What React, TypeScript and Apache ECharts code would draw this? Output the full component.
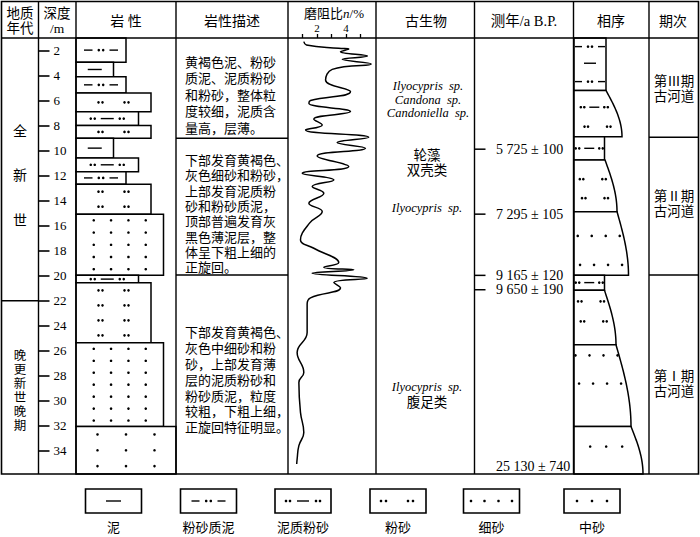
import React, { useEffect, useRef } from "react";
import * as echarts from "echarts";

const SERIF = "'Liberation Serif', 'Noto Sans CJK SC', serif";

// depth axis (m)
const depthMin = 1;
const depthMax = 35.9;
const depthTicks = [2, 4, 6, 8, 10, 12, 14, 16, 18, 20, 22, 24, 26, 28, 30, 32, 34];

// lithology beds: [top, bottom, grain class (1 泥 2 粉砂质泥 3 泥质粉砂 4 粉砂 5 细砂 6 中砂), symbol rows]
const lithologyBeds = [
  [1.0, 2.94, 2, 1],
  [2.94, 4.1, 1, 1],
  [4.1, 5.4, 2, 1],
  [5.4, 6.9, 4, 1],
  [6.9, 8.0, 3, 1],
  [8.0, 9.03, 4, 1],
  [9.03, 10.6, 1, 1],
  [10.6, 11.7, 3, 1],
  [11.7, 12.7, 2, 1],
  [12.7, 15.1, 4, 2],
  [15.1, 20.0, 5, 5],
  [20.0, 20.6, 3, 1],
  [20.6, 25.4, 4, 4],
  [25.4, 32.1, 5, 7],
  [32.1, 35.9, 6, 3],
];

// resistivity curve
const resDepth = [1.29, 1.56, 1.83, 1.88, 2.1, 2.44, 2.71, 3.08, 3.51, 4.36, 5.29, 6.01, 6.23, 6.89, 7.5, 7.96, 8.36, 8.95, 9.37, 9.83, 10.44, 11.29, 11.83, 12.36, 12.89, 13.43, 14.23, 14.89, 15.8, 17.16, 17.83, 18.97, 19.35, 19.56, 19.83, 20.23, 20.57, 21.0, 21.8, 22.3, 24.57, 26.17, 27.77, 28.57, 30.97, 32.57, 33.63, 34.7, 35.1];
const resValue = [1.09, 1.27, 3.5, 4.19, 3.62, 5.48, 3.74, 5.74, 3.05, 2.59, 4.31, 1.55, 1.44, 4.31, 1.78, 2.36, 1.21, 5.57, 3.39, 5.34, 2.01, 4.19, 0.98, 3.16, 1.67, 2.47, 1.44, 2.36, 1.5, 0.86, 1.78, 3.5, 2.47, 4.54, 1.67, 5.46, 3.16, 3.62, 1.55, 1.32, 1.32, 0.63, 1.09, 0.75, 0.86, 1.09, 0.75, 0.63, 0.6];
const resTicks = [1, 2, 3, 4, 5];
const resLabels = [2, 4];

// dating
const dateDepth = [9.9, 15.1, 20.0, 21.15, 35.3];
const dateLabel = ["5 725 ± 100", "7 295 ± 105", "9 165 ± 120", "9 650 ± 190", "25 130 ± 740"];
const dateHasTick = [1, 1, 1, 1, 0];

// facies sequence beds: [top, bottom, width at top, width at bottom]
const faciesBeds = [
  [1.0, 5.2, 32, 32],
  [5.2, 8.9, 32, 48],
  [8.9, 10.76, 30.5, 30.5],
  [10.76, 14.9, 31, 43],
  [14.9, 20.0, 43, 54.5],
  [20.0, 21.2, 30.5, 30.5],
  [21.2, 25.56, 30.5, 42],
  [25.56, 32.1, 42, 57],
  [32.1, 35.9, 57, 69],
];
// facies symbols: [depth, grain class]
const faciesMarks = [
  [1.69, 2], [3.02, 1], [4.49, 2],
  [6.54, 3], [8.09, 4],
  [9.83, 3],
  [12.3, 4], [13.82, 4],
  [16.84, 5], [19.16, 5],
  [20.58, 3],
  [22.08, 4], [23.68, 4],
  [26.4, 5], [28.66, 5],
  [33.7, 6],
];

const legendNames = ["泥", "粉砂质泥", "泥质粉砂", "粉砂", "细砂", "中砂"];

const SYMBOLS: any = {
  lith: {
    1: { dashes: [[-7, 7]], dots: [] },
    2: { dashes: [[-17, -8.5], [8.5, 17]], dots: [-2.2, 2.2] },
    3: { dashes: [[-6.5, 6.5]], dots: [-16.5, -12.5, 12.5, 16.5] },
    4: { dashes: [], dots: [-15, -11, 11, 15] },
    5: { dashes: [], dots: [-26, -8.7, 8.7, 26] },
    6: { dashes: [], dots: [-28.5, 0, 28.5] },
  },
  facies: {
    1: { dashes: [[-6, 6]], dots: [] },
    2: { dashes: [[-15, -8], [8, 15]], dots: [-2, 2] },
    3: { dashes: [[-5, 5]], dots: [-13.5, -10, 10, 13.5] },
    4: { dashes: [], dots: [-13, -9.5, 9.5, 13] },
    5: { dashes: [], dots: [-21, -7, 7, 21] },
    6: { dashes: [], dots: [-16, 0, 16] },
  },
  legend: {
    1: { dashes: [[-7.5, 7.5]], dots: [] },
    2: { dashes: [[-17, -9], [9, 17]], dots: [-2.3, 2.3] },
    3: { dashes: [[-6, 6]], dots: [-17, -13, 13, 17] },
    4: { dashes: [], dots: [-17, -12, 10, 15] },
    5: { dashes: [], dots: [-20.5, -7, 7, 20.5] },
    6: { dashes: [], dots: [-15, 0, 15] },
  },
};

function symbolEls(cx: number, cy: number, cls: number, ctx: string) {
  const s = SYMBOLS[ctx][cls];
  const els: any[] = [];
  s.dashes.forEach((d: number[]) =>
    els.push({ type: "line", shape: { x1: cx + d[0], y1: cy, x2: cx + d[1], y2: cy }, style: { stroke: "#000", lineWidth: 1.4 } })
  );
  s.dots.forEach((d: number) =>
    els.push({ type: "circle", shape: { cx: cx + d, cy, r: 1.3 }, style: { fill: "#000" } })
  );
  return els;
}

function faciesWidth(b: number[], depth: number) {
  const t = Math.max(0, Math.min(1, (depth - b[0]) / (b[1] - b[0])));
  return b[2] + (b[3] - b[2]) * Math.sin((t * Math.PI) / 2);
}

// column borders (px)
const TOP = 38;
const BOTTOM = 474;
const cols = [1.5, 38.5, 76, 176, 288, 376, 474.5, 573.5, 649, 698.5];

export default function App() {
  const ref = useRef<HTMLDivElement>(null);
  useEffect(() => {
    if (!ref.current) return;
    const chart = echarts.init(ref.current, null, { renderer: "svg" });
    const H = BOTTOM - TOP;
    const yBase = (i: number, extra: any = {}) => ({
      type: "value",
      gridIndex: i,
      min: depthMin,
      max: depthMax,
      inverse: true,
      axisLine: { show: false },
      axisTick: { show: false },
      axisLabel: { show: false },
      splitLine: { show: false },
      ...extra,
    });
    const xBase = (i: number, min: number, max: number, extra: any = {}) => ({
      type: "value",
      gridIndex: i,
      min,
      max,
      axisLine: { show: false },
      axisTick: { show: false },
      axisLabel: { show: false },
      splitLine: { show: false },
      ...extra,
    });
    const grid = (left: number, width: number) => ({ left, width, top: TOP, height: H, outerBoundsMode: "none" });

    const graphics: any[] = [];
    const txt = (x: number, y: number, text: string, extra: any = {}) =>
      graphics.push({
        type: "text",
        x,
        y,
        z: 10,
        style: { text, fontFamily: SERIF, fontSize: 13, fill: "#000", align: "center", verticalAlign: "middle", ...extra },
      });
    const ln = (x1: number, y1: number, x2: number, y2: number, w = 1.4) =>
      graphics.push({ type: "line", z: 5, shape: { x1, y1, x2, y2 }, style: { stroke: "#000", lineWidth: w } });

    // table frame
    graphics.push({ type: "rect", z: 5, shape: { x: 1.5, y: 1.5, width: 697, height: BOTTOM - 1.5 }, style: { fill: "none", stroke: "#000", lineWidth: 1.6 } });
    ln(1.5, TOP, 698.5, TOP);
    cols.slice(1, -1).forEach((x) => ln(x, 1.5, x, BOTTOM));
    ln(1.5, 300.7, 38.5, 300.7);
    ln(176, 138.3, 288, 138.3);
    ln(176, 275, 288, 275);
    ln(649, 137.3, 698.5, 137.3);
    ln(649, 275, 698.5, 275);

    // headers
    txt(20, 13, "地质", { fontSize: 13.5 });
    txt(20, 28, "年代", { fontSize: 13.5 });
    txt(57, 13, "深度", { fontSize: 13.5 });
    txt(57, 28, "/m", { fontSize: 13.5 });
    txt(126, 21, "岩 性", { fontSize: 14 });
    txt(232, 21, "岩性描述", { fontSize: 14 });
    graphics.push({
      type: "text",
      x: 334,
      y: 13,
      z: 10,
      style: {
        text: "{a|磨阻比}{b|n}{a|/%}",
        align: "center",
        verticalAlign: "middle",
        rich: {
          a: { fontFamily: SERIF, fontSize: 13, fill: "#000" },
          b: { fontFamily: SERIF, fontSize: 13, fontStyle: "italic", fill: "#000" },
        },
      },
    });
    txt(426, 21, "古生物", { fontSize: 14 });
    txt(524, 21, "测年/a B.P.", { fontSize: 14.5 });
    txt(611, 21, "相序", { fontSize: 14 });
    txt(673, 21, "期次", { fontSize: 14 });

    // geological age
    txt(20, 131, "全", { fontSize: 14 });
    txt(20, 175, "新", { fontSize: 14 });
    txt(20, 220, "世", { fontSize: 14 });
    ["晚", "更", "新", "世", "晚", "期"].forEach((c, i) => txt(20, 356 + i * 14, c, { fontSize: 12.5 }));

    // lithology descriptions
    const desc = (x: number, y: number, lines: string[], lh: number) =>
      graphics.push({
        type: "text",
        x,
        y,
        z: 10,
        style: { text: lines.join("\n"), fontFamily: SERIF, fontSize: 13, lineHeight: lh, fill: "#000", align: "left", verticalAlign: "top" },
      });
    desc(185, 54, ["黄褐色泥、粉砂", "质泥、泥质粉砂", "和粉砂，整体粒", "度较细，泥质含", "量高，层薄。"], 16.5);
    desc(185, 153, ["下部发育黄褐色、", "灰色细砂和粉砂，", "上部发育泥质粉", "砂和粉砂质泥，", "顶部普遍发育灰", "黑色薄泥层，整", "体呈下粗上细的", "正旋回。"], 15.3);
    desc(185, 325, ["下部发育黄褐色、", "灰色中细砂和粉", "砂，上部发育薄", "层的泥质粉砂和", "粉砂质泥，粒度", "较粗，下粗上细，", "正旋回特征明显。"], 15.8);

    // fossils (three stacked names as one block)
    graphics.push({
      type: "text",
      x: 428,
      y: 99.5,
      z: 10,
      style: {
        text: "Ilyocypris  sp.\nCandona  sp.\nCandoniella  sp.",
        fontFamily: SERIF,
        fontSize: 12.5,
        fontStyle: "italic",
        lineHeight: 13.7,
        fill: "#000",
        align: "center",
        verticalAlign: "middle",
      },
    });
    const ital = { fontStyle: "italic", fontSize: 12.5 };
    txt(427, 155, "轮藻", { fontSize: 13.5 });
    txt(427, 170, "双壳类", { fontSize: 13.5 });
    txt(427, 208, "Ilyocypris  sp.", ital);
    txt(427, 387, "Ilyocypris  sp.", ital);
    txt(427, 402, "腹足类", { fontSize: 13.5 });

    // periods
    txt(674, 81, "第Ⅲ期", { fontSize: 13.5 });
    txt(674, 96, "古河道", { fontSize: 13.5 });
    txt(674, 196, "第Ⅱ期", { fontSize: 13.5 });
    txt(674, 211, "古河道", { fontSize: 13.5 });
    txt(674, 376, "第Ⅰ期", { fontSize: 13.5 });
    txt(674, 391, "古河道", { fontSize: 13.5 });

    // legend
    const legendCx = [113.5, 208.5, 303, 398, 491.5, 592];
    legendNames.forEach((name, i) => {
      const cx = legendCx[i];
      graphics.push({ type: "rect", z: 5, shape: { x: cx - 28, y: 489, width: 56, height: 24 }, style: { fill: "#fff", stroke: "#000", lineWidth: 1.6 } });
      symbolEls(cx, 501, i + 1, "legend").forEach((e) => graphics.push({ ...e, z: 6 }));
      txt(cx, 527, name, { fontSize: 13 });
    });

    const option: any = {
      animation: false,
      backgroundColor: "#fff",
      grid: [grid(38.5, 37.5), grid(76, 100), grid(288, 88), grid(474.5, 99), grid(574, 75)],
      yAxis: [
        yBase(0, {
          axisTick: { show: true, inside: true, length: 11, customValues: depthTicks, lineStyle: { color: "#000", width: 1.6 } },
          axisLabel: { show: true, inside: true, margin: 15, customValues: depthTicks, fontFamily: SERIF, fontSize: 13, color: "#000" },
        }),
        yBase(1),
        yBase(2),
        yBase(3),
        yBase(4),
      ],
      xAxis: [
        xBase(0, 0, 1),
        xBase(1, -2, 6),
        xBase(2, 0, 88 / 14.5, {
          position: "top",
          axisTick: { show: true, length: 4, customValues: resTicks, lineStyle: { color: "#000", width: 1.3 } },
          axisLabel: { show: true, margin: 5, customValues: resLabels, fontFamily: SERIF, fontSize: 11, color: "#000" },
        }),
        xBase(3, 0, 99),
        xBase(4, 0, 75),
      ],
      graphic: graphics,
      series: [
        {
          type: "custom",
          xAxisIndex: 1,
          yAxisIndex: 1,
          data: lithologyBeds,
          renderItem: (params: any, api: any) => {
            const top = api.value(0), bottom = api.value(1), cls = api.value(2), rows = api.value(3);
            const p0 = api.coord([-2, top]);
            const p1 = api.coord([cls, bottom]);
            const children: any[] = [
              { type: "rect", shape: { x: p0[0], y: p0[1], width: p1[0] - p0[0], height: p1[1] - p0[1] }, style: { fill: "#fff", stroke: "#000", lineWidth: 1.5 } },
            ];
            const cx = (p0[0] + p1[0]) / 2;
            for (let i = 0; i < rows; i++) {
              const cy = p0[1] + ((i + 0.5) * (p1[1] - p0[1])) / rows;
              children.push(...symbolEls(cx, cy, cls, "lith"));
            }
            return { type: "group", children };
          },
        },
        {
          type: "line",
          xAxisIndex: 2,
          yAxisIndex: 2,
          data: resDepth.map((d, i) => [resValue[i], d]),
          showSymbol: false,
          smooth: 0.45,
          lineStyle: { color: "#000", width: 1.5 },
        },
        {
          type: "custom",
          xAxisIndex: 3,
          yAxisIndex: 3,
          data: dateDepth.map((d, i) => [d, dateHasTick[i]]),
          renderItem: (params: any, api: any) => {
            const d = api.value(0);
            const hasTick = api.value(1);
            const a = api.coord([0, d]);
            const b = api.coord([11, d]);
            const t = api.coord([21.5, d]);
            const children: any[] = [];
            if (hasTick) children.push({ type: "line", shape: { x1: a[0], y1: a[1], x2: b[0], y2: b[1] }, style: { stroke: "#000", lineWidth: 1.5 } });
            children.push({
              type: "text",
              x: t[0],
              y: t[1],
              style: { text: dateLabel[params.dataIndex], fontFamily: SERIF, fontSize: 14, fill: "#000", align: "left", verticalAlign: "middle" },
            });
            return { type: "group", children };
          },
        },
        {
          type: "custom",
          xAxisIndex: 4,
          yAxisIndex: 4,
          data: faciesBeds,
          renderItem: (params: any, api: any) => {
            const b = [api.value(0), api.value(1), api.value(2), api.value(3)];
            const pts: number[][] = [api.coord([0, b[0]])];
            const n = 24;
            for (let i = 0; i <= n; i++) {
              const d = b[0] + ((b[1] - b[0]) * i) / n;
              pts.push(api.coord([faciesWidth(b, d), d]));
            }
            pts.push(api.coord([0, b[1]]));
            return { type: "polygon", shape: { points: pts }, style: { fill: "#fff", stroke: "#000", lineWidth: 1.5 } };
          },
        },
        {
          type: "custom",
          xAxisIndex: 4,
          yAxisIndex: 4,
          z: 3,
          data: faciesMarks,
          renderItem: (params: any, api: any) => {
            const d = api.value(0);
            const cls = api.value(1);
            const bed = faciesBeds.find((b) => d >= b[0] && d <= b[1]) || faciesBeds[0];
            const w = faciesWidth(bed, d);
            const p = api.coord([w / 2, d]);
            return { type: "group", children: symbolEls(p[0], p[1], cls, "facies") };
          },
        },
      ],
    };
    chart.setOption(option);
    return () => chart.dispose();
  }, []);
  return <div ref={ref} style={{ position: "fixed", left: 0, top: 0, width: 700, height: 537, background: "#fff" }} />;
}
